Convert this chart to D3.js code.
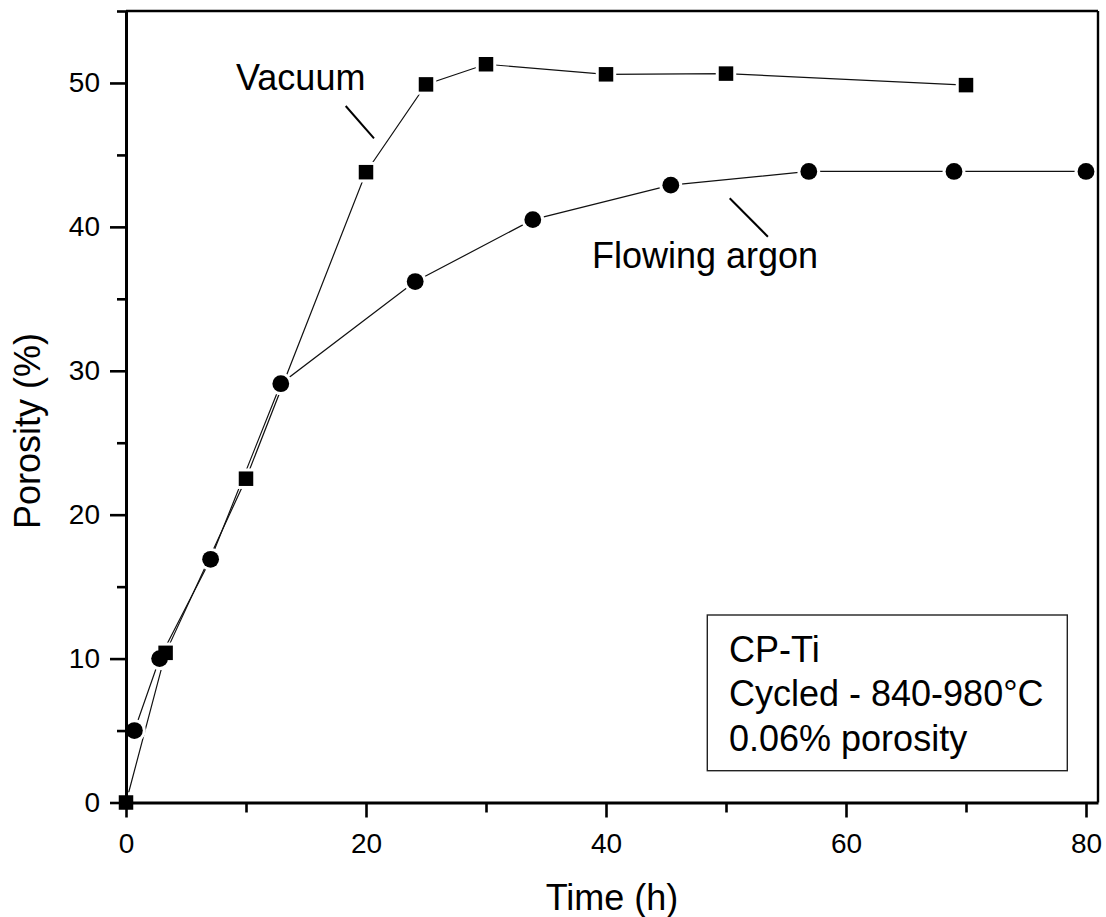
<!DOCTYPE html>
<html>
<head>
<meta charset="utf-8">
<script src="https://cdn.jsdelivr.net/npm/d3@7"></script>
<style>
  html, body { margin: 0; padding: 0; background: #fff; }
  svg { display: block; font-family: Arial, "Liberation Sans", sans-serif; }
</style>
</head>
<body>
<svg id="chart" width="1106" height="917"></svg>
<script>
// Porosity growth of CP-Ti under thermal cycling, two atmospheres
const timeVacuum = [0, 3.3, 10, 20, 25, 30, 40, 50, 70];
const porosityVacuum = [0, 10.4, 22.5, 43.8, 49.9, 51.3, 50.6, 50.65, 49.85];

const timeArgon = [0.7, 2.8, 7.05, 12.9, 24.1, 33.9, 45.4, 56.9, 69, 80];
const porosityArgon = [5.0, 10.0, 16.9, 29.1, 36.2, 40.5, 42.9, 43.85, 43.85, 43.85];

const xMajorTicks = [0, 20, 40, 60, 80];
const xMinorTicks = [10, 30, 50, 70];
const yMajorTicks = [0, 10, 20, 30, 40, 50];
const yMinorTicks = [5, 15, 25, 35, 45, 55];

const infoLines = ["CP-Ti", "Cycled - 840-980°C", "0.06% porosity"];

const svg = d3.select("#chart");
const plotLeft = 126, plotRight = 1098, plotTop = 11, plotBottom = 802.5;

const x = d3.scaleLinear().domain([0, 81]).range([plotLeft, plotRight]);
const y = d3.scaleLinear().domain([0, 55]).range([plotBottom, plotTop]);

const vacuum = timeVacuum.map((t, i) => ({ t, p: porosityVacuum[i] }));
const argon = timeArgon.map((t, i) => ({ t, p: porosityArgon[i] }));

// Connecting lines
const line = d3.line().x(d => x(d.t)).y(d => y(d.p));
[vacuum, argon].forEach(series => {
  svg.append("path")
    .datum(series)
    .attr("d", line)
    .attr("fill", "none")
    .attr("stroke", "#111")
    .attr("stroke-width", 1.2);
});

// Markers with a small white halo so the lines stop short of each symbol
const sq = 14.5, r = 8.4, halo = 3;
const gHalo = svg.append("g");
const gMark = svg.append("g");
argon.forEach(d => {
  gHalo.append("circle").attr("cx", x(d.t)).attr("cy", y(d.p)).attr("r", r + halo).attr("fill", "#fff");
});
vacuum.forEach(d => {
  gHalo.append("rect").attr("x", x(d.t) - sq / 2 - halo).attr("y", y(d.p) - sq / 2 - halo)
    .attr("width", sq + 2 * halo).attr("height", sq + 2 * halo).attr("fill", "#fff");
});
argon.forEach(d => {
  gMark.append("circle").attr("cx", x(d.t)).attr("cy", y(d.p)).attr("r", r).attr("fill", "#000");
});
vacuum.forEach(d => {
  gMark.append("rect").attr("x", x(d.t) - sq / 2).attr("y", y(d.p) - sq / 2)
    .attr("width", sq).attr("height", sq).attr("fill", "#000");
});

// Frame (top and right)
svg.append("line").attr("x1", plotLeft).attr("x2", plotRight).attr("y1", plotTop).attr("y2", plotTop)
  .attr("stroke", "#000").attr("stroke-width", 2.6);
svg.append("line").attr("x1", plotRight).attr("x2", plotRight).attr("y1", plotTop).attr("y2", plotBottom)
  .attr("stroke", "#000").attr("stroke-width", 2.4);

// Axes
function styleAxis(g) {
  g.select(".domain").attr("stroke", "#000").attr("stroke-width", 3);
  g.selectAll(".tick line").attr("stroke", "#000").attr("stroke-width", 2.6);
  g.selectAll(".tick text").attr("fill", "#000").style("font-size", "28px")
    .style("font-family", "Arial, 'Liberation Sans', sans-serif");
}

const gxMinor = svg.append("g").attr("transform", `translate(0,${plotBottom})`)
  .call(d3.axisBottom(x).tickValues(xMinorTicks).tickSize(10).tickFormat(""));
gxMinor.select(".domain").remove();
gxMinor.selectAll(".tick line").attr("stroke", "#000").attr("stroke-width", 2.6);

const gx = svg.append("g").attr("transform", `translate(0,${plotBottom})`)
  .call(d3.axisBottom(x).tickValues(xMajorTicks).tickSize(15).tickSizeOuter(0).tickFormat(d3.format("d")));
styleAxis(gx);
gx.selectAll(".tick text").attr("y", 50).attr("dy", null);

const gyMinor = svg.append("g").attr("transform", `translate(${plotLeft},0)`)
  .call(d3.axisLeft(y).tickValues(yMinorTicks).tickSize(9).tickFormat(""));
gyMinor.select(".domain").remove();
gyMinor.selectAll(".tick line").attr("stroke", "#000").attr("stroke-width", 2.6);

const gy = svg.append("g").attr("transform", `translate(${plotLeft},0)`)
  .call(d3.axisLeft(y).tickValues(yMajorTicks).tickSize(16).tickSizeOuter(0).tickPadding(10).tickFormat(d3.format("d")));
styleAxis(gy);

// Axis titles
svg.append("text").attr("x", (plotLeft + plotRight) / 2).attr("y", 910)
  .attr("text-anchor", "middle").style("font-size", "36px").text("Time (h)");
svg.append("text").attr("transform", "translate(40,431) rotate(-90)")
  .attr("text-anchor", "middle").style("font-size", "36px").text("Porosity (%)");

// Series annotations with pointer lines
svg.append("text").attr("x", 236).attr("y", 90).style("font-size", "36px").text("Vacuum");
svg.append("line").attr("x1", 345.7).attr("y1", 106).attr("x2", 374).attr("y2", 138.3)
  .attr("stroke", "#000").attr("stroke-width", 2);

svg.append("text").attr("x", 592).attr("y", 268).style("font-size", "36px").text("Flowing argon");
svg.append("line").attr("x1", 729.7).attr("y1", 198.3).attr("x2", 767.9).attr("y2", 236.7)
  .attr("stroke", "#000").attr("stroke-width", 2);

// Info box
svg.append("rect").attr("x", 707.3).attr("y", 615).attr("width", 360).attr("height", 155.7)
  .attr("fill", "#fff").attr("stroke", "#222").attr("stroke-width", 1.4);
infoLines.forEach((t, i) => {
  svg.append("text").attr("x", 729).attr("y", 662 + i * 44.3).style("font-size", "36px").text(t);
});
</script>
</body>
</html>
